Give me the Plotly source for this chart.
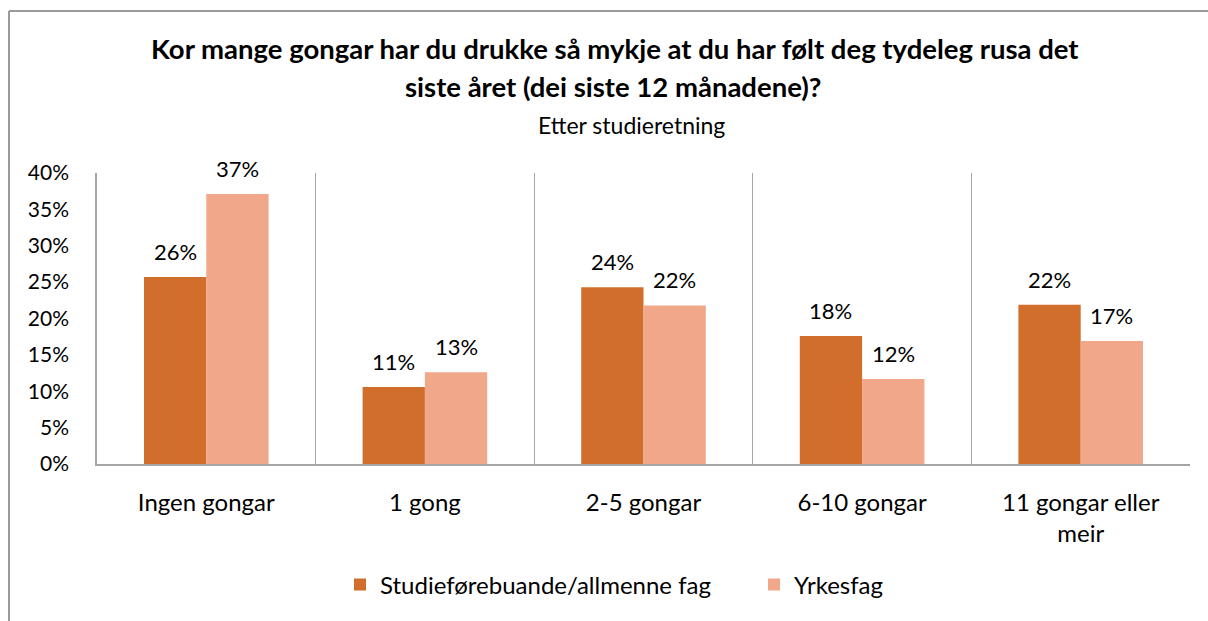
import plotly.graph_objects as go

categories = ["Ingen gongar", "1 gong", "2-5 gongar", "6-10 gongar", "11 gongar eller<br>meir"]
series_names = ["Studieførebuande/allmenne fag", "Yrkesfag"]
studie = [0.257, 0.106, 0.243, 0.176, 0.219]
yrkes = [0.371, 0.126, 0.218, 0.117, 0.169]
y_ticks = [0, 0.05, 0.10, 0.15, 0.20, 0.25, 0.30, 0.35, 0.40]

colors = ["#D26E2C", "#F1A78A"]
FONT = "Lato"
BARGAP = 0.43

W, H = 1208, 621
ML, MR, MT, MB = 97, 18, 173, 157
pw, ph = W - ML - MR, H - MT - MB

fig = go.Figure()
for name, vals, col in zip(series_names, [studie, yrkes], colors):
    fig.add_trace(go.Bar(x=categories, y=vals, name=name, marker=dict(color=col, line=dict(width=0))))

# value labels above each bar, offset to the bar's position in its group
half = (1 - BARGAP) / 4
annotations = []
for s, vals in enumerate([studie, yrkes]):
    for i, v in enumerate(vals):
        annotations.append(dict(
            x=i + (-half if s == 0 else half), y=v, xref="x", yref="y",
            text=f"{round(v * 100)}%", showarrow=False, yanchor="bottom", xanchor="center",
            yshift=10, font=dict(family=FONT, size=22, color="#000000")))

def px_x(p):
    return (p - ML) / pw

def px_y(p):
    return (H - MB - p) / ph

title_font = dict(family=FONT, size=27.5, color="#000000")
annotations += [
    dict(x=px_x(615), y=px_y(49), xref="paper", yref="paper", showarrow=False,
         xanchor="center", yanchor="middle",
         text="<b>Kor mange gongar har du drukke så mykje at du har følt deg tydeleg rusa det</b>",
         font=title_font),
    dict(x=px_x(613), y=px_y(87), xref="paper", yref="paper", showarrow=False,
         xanchor="center", yanchor="middle",
         text="<b>siste året (dei siste 12 månadene)?</b>", font=title_font),
    dict(x=px_x(631), y=px_y(125), xref="paper", yref="paper", showarrow=False,
         xanchor="center", yanchor="middle",
         text="Etter studieretning", font=dict(family=FONT, size=23, color="#000000")),
]

# chart frame (top and left edges)
shapes = [
    dict(type="line", xref="paper", yref="paper", x0=px_x(9), x1=px_x(W), y0=px_y(11), y1=px_y(11),
         line=dict(color="#9A9A9A", width=2)),
    dict(type="line", xref="paper", yref="paper", x0=px_x(9), x1=px_x(9), y0=px_y(11), y1=px_y(H),
         line=dict(color="#9A9A9A", width=2)),
]

fig.update_layout(
    width=W, height=H,
    margin=dict(l=ML, r=MR, t=MT, b=MB),
    paper_bgcolor="white", plot_bgcolor="white",
    barmode="group", bargap=BARGAP, bargroupgap=0,
    font=dict(family=FONT, size=20, color="#000000"),
    showlegend=True,
    legend=dict(orientation="h", x=px_x(340), xanchor="left", y=px_y(585), yanchor="middle",
                font=dict(family=FONT, size=24), itemwidth=30, traceorder="normal",
                entrywidth=369, entrywidthmode="pixels"),
    annotations=annotations,
    shapes=shapes,
)
fig.update_xaxes(
    type="category", tickson="boundaries", showgrid=True, gridcolor="#A6A6A6", gridwidth=1,
    showline=True, linecolor="#A6A6A6", linewidth=1.5, ticks="", ticklabelstandoff=16,
    tickfont=dict(family=FONT, size=24), fixedrange=True, mirror=False,
)
fig.update_yaxes(
    range=[0, 0.40], tickvals=y_ticks, tickformat=".0%", showgrid=False,
    showline=True, linecolor="#A6A6A6", linewidth=1.5, ticks="", ticklabelstandoff=22,
    tickfont=dict(family=FONT, size=21), zeroline=False, fixedrange=True,
)

fig.write_html("out.html")
